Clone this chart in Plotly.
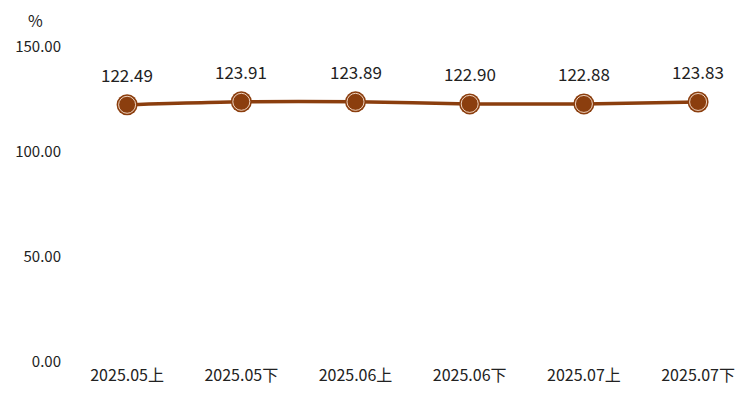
import plotly.graph_objects as go

categories = ["2025.05上", "2025.05下", "2025.06上", "2025.06下", "2025.07上", "2025.07下"]
values = [122.49, 123.91, 123.89, 122.90, 122.88, 123.83]
y_ticks = [0, 50, 100, 150]
y_tick_labels = ["0.00", "50.00", "100.00", "150.00"]

color = "#8B3E0E"
font = "Noto Sans CJK SC, Microsoft YaHei, sans-serif"

fig = go.Figure()
fig.add_trace(go.Scatter(
    x=categories, y=values, mode="lines+markers",
    line=dict(color=color, width=3.5, shape="spline", smoothing=0.6),
    marker=dict(size=21, color=color, line=dict(width=0)),
    hoverinfo="skip", showlegend=False,
))
fig.add_trace(go.Scatter(
    x=categories, y=values, mode="markers",
    marker=dict(size=17, color=color, line=dict(width=1, color="rgba(255,235,220,0.85)")),
    hoverinfo="skip", showlegend=False,
))
for c, v in zip(categories, values):
    fig.add_annotation(x=c, y=v, text=f"{v:.2f}", showarrow=False, yshift=30,
                       font=dict(size=17, color="#222", family=font))
fig.add_annotation(xref="paper", yref="paper", x=-0.05, y=1.085, text="%", showarrow=False,
                   xanchor="center", yanchor="middle", font=dict(size=16, color="#222", family=font))

fig.update_layout(
    width=752, height=403,
    margin=dict(l=70, r=0, t=47, b=41),
    plot_bgcolor="white", paper_bgcolor="white",
    font=dict(family=font, size=15, color="#222"),
    xaxis=dict(type="category", range=[-0.5, 5.472], showgrid=False, zeroline=False,
               showline=False, ticks="", tickfont=dict(size=16), ticklabelstandoff=2),
    yaxis=dict(range=[0, 150], tickvals=y_ticks, ticktext=y_tick_labels, showgrid=False,
               zeroline=False, showline=False, ticks="", ticklabelstandoff=8,
               tickfont=dict(size=15)),
)
fig.write_html("out.html", config={"displayModeBar": False},
               post_script="document.body.style.margin='0';document.body.style.overflow='hidden';")
